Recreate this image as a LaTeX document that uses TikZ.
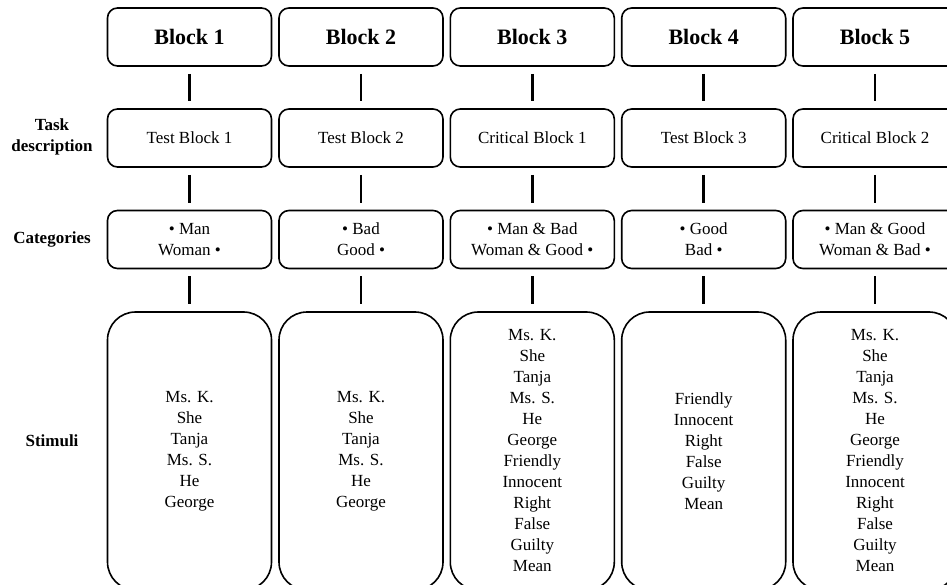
\documentclass[tikz,border=0pt]{standalone}
\usepackage{fontspec}
\setmainfont{Liberation Serif}
\begin{document}
\begin{tikzpicture}[x=1pt,y=-1pt,
  box/.style={draw, line width=1.6pt, rounded corners=10pt, minimum width=164pt, minimum height=58pt, inner sep=0pt, align=center, font=\fontsize{17}{21}\selectfont},
  headbox/.style={box, font=\fontsize{22}{26}\selectfont\bfseries},
  stimbox/.style={box, rounded corners=28pt, minimum height=278pt},
  rowlabel/.style={align=center, font=\fontsize{17}{21}\selectfont\bfseries},
  conn/.style={line width=2.6pt, shorten <=7pt, shorten >=7pt}]
\useasboundingbox (0,0) rectangle (947,585);
\clip (0,0) rectangle (947,585);
\fill[white] (0,0) rectangle (947,585);

\node[rowlabel] (lt) at (52,137) {Task\\description};
\node[rowlabel] (lc) at (52,239) {Categories};
\node[rowlabel] (ls) at (52,441) {Stimuli};

\foreach \i/\x in {1/189.5, 2/361, 3/532.3, 4/703.7, 5/875} {
  \node[headbox] (h\i) at (\x,37) {Block \i};
}
\node[box] (t1) at (189.5,138) {Test Block 1};
\node[box] (t2) at (361,138) {Test Block 2};
\node[box] (t3) at (532.3,138) {Critical Block 1};
\node[box] (t4) at (703.7,138) {Test Block 3};
\node[box] (t5) at (875,138) {Critical Block 2};

\node[box] (c1) at (189.5,239.5) {\textbullet\ Man\\Woman \textbullet};
\node[box] (c2) at (361,239.5) {\textbullet\ Bad\\Good \textbullet};
\node[box] (c3) at (532.3,239.5) {\textbullet\ Man \& Bad\\Woman \& Good \textbullet};
\node[box] (c4) at (703.7,239.5) {\textbullet\ Good\\Bad \textbullet};
\node[box] (c5) at (875,239.5) {\textbullet\ Man \& Good\\Woman \& Bad \textbullet};

\node[stimbox] (s1) at (189.5,451) {Ms. K.\\She\\Tanja\\Ms. S.\\He\\George};
\node[stimbox] (s2) at (361,451) {Ms. K.\\She\\Tanja\\Ms. S.\\He\\George};
\node[stimbox] (s3) at (532.3,451) {Ms. K.\\She\\Tanja\\Ms. S.\\He\\George\\Friendly\\Innocent\\Right\\False\\Guilty\\Mean};
\node[stimbox] (s4) at (703.7,451) {Friendly\\Innocent\\Right\\False\\Guilty\\Mean};
\node[stimbox] (s5) at (875,451) {Ms. K.\\She\\Tanja\\Ms. S.\\He\\George\\Friendly\\Innocent\\Right\\False\\Guilty\\Mean};

\foreach \i in {1,...,5} {
  \draw[conn] (h\i.south) -- (t\i.north);
  \draw[conn] (t\i.south) -- (c\i.north);
  \draw[conn] (c\i.south) -- (s\i.north);
}
\end{tikzpicture}
\end{document}
